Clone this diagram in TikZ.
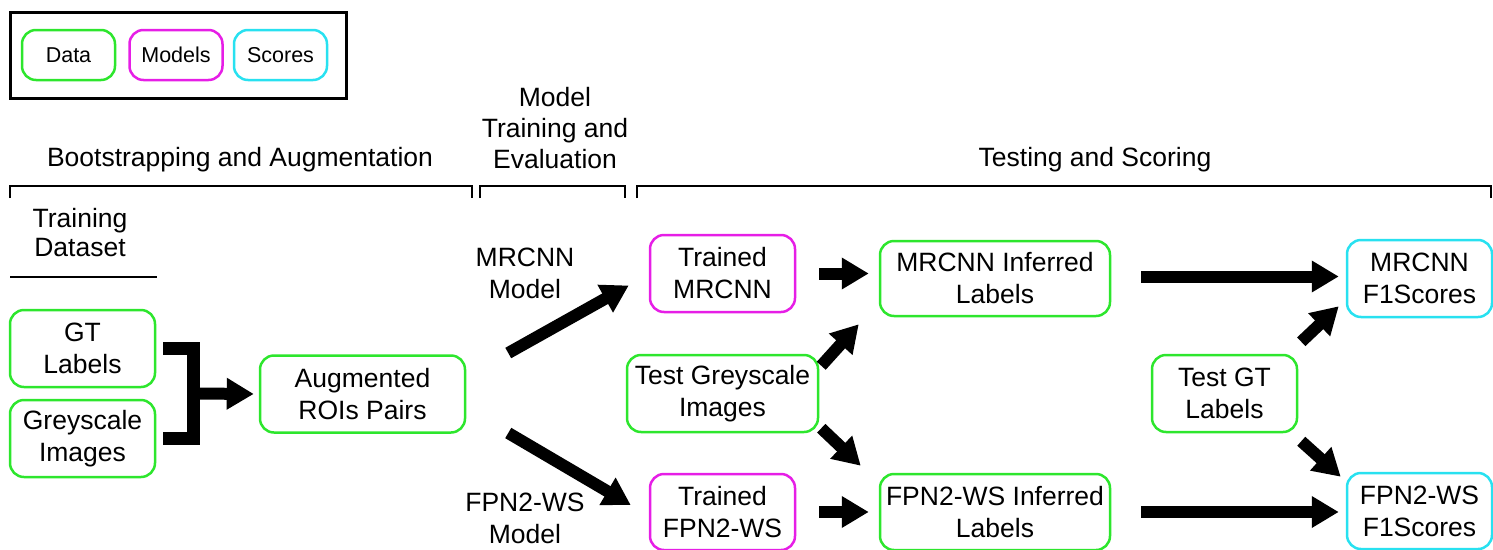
\documentclass[tikz,border=0pt]{standalone}
\usepackage{fontspec}
\setmainfont{Liberation Sans}
\usetikzlibrary{arrows.meta, positioning}

\definecolor{datagreen}{RGB}{45,230,45}
\definecolor{modelpink}{RGB}{230,30,230}
\definecolor{scorecyan}{RGB}{40,225,240}

\begin{document}
\begin{tikzpicture} [x=1pt, y=-1pt,
    every node/.style = {font=\fontsize{26.5}{32}\selectfont, align=center},
    box/.style = {draw, rounded corners=14pt, line width=2.5pt, inner sep=0pt},
    data/.style = {box, draw=datagreen},
    model/.style = {box, draw=modelpink},
    score/.style = {box, draw=scorecyan},
    small/.style = {font=\fontsize{21.5}{25}\selectfont},
    fat/.style = {line width=12pt, -{Triangle[length=27pt, width=30pt]}},
    bar/.style = {line width=13pt, miter limit=4},
    section/.style = {line width=2.5pt}]
    \useasboundingbox (0,0) rectangle (1493,549);

    % legend
    \node (legend) [draw, line width=3pt, minimum width=336, minimum height=86] at (178,55) {};
    \node (keydata) [data, small, minimum width=93, minimum height=50] at (68.5,55) {Data};
    \node (keymodel) [model, small, minimum width=93, minimum height=50] at (176,55) {Models};
    \node (keyscore) [score, small, minimum width=93, minimum height=50] at (280.5,55) {Scores};

    % section headers
    \node (boot) at (240,160) {Bootstrapping and Augmentation};
    \node (train) at (555,128) {Model\\[-1pt]Training and\\[-1pt]Evaluation};
    \node (test) at (1095,160) {Testing and Scoring};
    \draw [section] (10,198) -- (10,186) -- (472,186) -- (472,198);
    \draw [section] (480,198) -- (480,186) -- (625,186) -- (625,198);
    \draw [section] (637,198) -- (637,186) -- (1491,186) -- (1491,198);

    \node (dataset) at (80,233) {Training\\[-3pt]Dataset};
    \draw [line width=2pt] (10,277) -- (157,277);

    % boxes
    \node (gt) [data, minimum width=145, minimum height=77] at (82.5,348.5) {GT\\Labels};
    \node (grey) [data, minimum width=145, minimum height=77] at (82.5,438.5) {Greyscale\\Images};
    \node (aug) [data, minimum width=205, minimum height=77] at (362.5,394) {Augmented\\ROIs Pairs};
    \node (mrlabel) at (525,273) {MRCNN\\Model};
    \node (fpnlabel) at (525,518) {FPN2-WS\\Model};
    \node (trmr) [model, minimum width=145, minimum height=77] at (722.5,273.5) {Trained\\MRCNN};
    \node (tgrey) [data, minimum width=191, minimum height=77] at (722.5,393.5) {Test Greyscale\\Images};
    \node (trfpn) [model, minimum width=145, minimum height=76] at (722.5,512) {Trained\\FPN2-WS};
    \node (mrinf) [data, minimum width=230, minimum height=75] at (995,278.5) {MRCNN Inferred\\Labels};
    \node (fpninf) [data, minimum width=230, minimum height=76] at (995,512) {FPN2-WS Inferred\\Labels};
    \node (tgt) [data, minimum width=145, minimum height=77] at (1224.5,393.5) {Test GT\\Labels};
    \node (mrf1) [score, minimum width=145, minimum height=77] at (1419.5,278.5) {MRCNN\\F1Scores};
    \node (fpnf1) [score, minimum width=145, minimum height=76] at (1419.5,511) {FPN2-WS\\F1Scores};

    % joining bracket
    \draw [bar] ([xshift=7]gt.east) -| ([xshift=37]grey.east) -- ([xshift=7]grey.east);
    \coordinate (join) at (192,393.5);

    % arrows
    \draw [fat, shorten >=5pt] (join) -- (aug.west);
    \draw [fat] ([shift={(42,-41)}]aug.east) -- ([shift={(-20,12)}]trmr.west);
    \draw [fat] ([shift={(42,39)}]aug.east) -- ([shift={(-18,-7)}]trfpn.west);
    \draw [fat, shorten <=23pt, shorten >=10pt] (trmr.east) -- (trmr.east -| mrinf.west);
    \draw [fat, shorten <=23pt, shorten >=10pt] (trfpn.east) -- (trfpn.east -| fpninf.west);
    \draw [fat] ([shift={(2,12)}]tgrey.north east) -- ([shift={(-20,7)}]mrinf.south west);
    \draw [fat] ([shift={(2,-5)}]tgrey.south east) -- ([shift={(-18,-7)}]fpninf.north west);
    \draw [fat, shorten <=30pt, shorten >=7pt] ([yshift=2]mrinf.east) -- ([yshift=2]mrinf.east -| mrf1.west);
    \draw [fat, shorten <=30pt, shorten >=7pt] (fpninf.east) -- (fpninf.east -| fpnf1.west);
    \draw [fat] ([shift={(3,-12)}]tgt.north east) -- ([shift={(-7,-12)}]mrf1.south west);
    \draw [fat] ([shift={(3,8)}]tgt.south east) -- ([shift={(-5,5)}]fpnf1.north west);
\end{tikzpicture}
\end{document}
